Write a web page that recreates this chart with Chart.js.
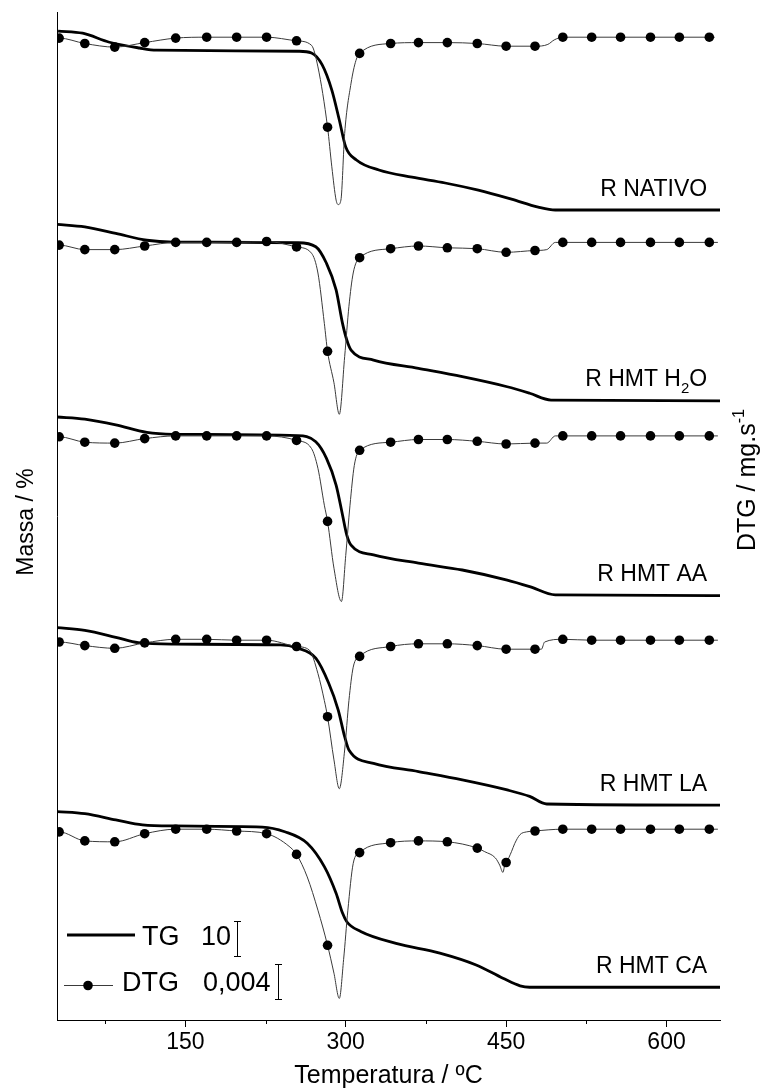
<!DOCTYPE html>
<html>
<head>
<meta charset="utf-8">
<script src="https://cdn.jsdelivr.net/npm/chart.js@4.4.1/dist/chart.umd.min.js"></script>
<style>
  html, body { margin: 0; padding: 0; background: #fff; }
  #wrap { width: 776px; height: 1090px; position: relative; }
</style>
</head>
<body>
<div id="wrap"><canvas id="tgChart"></canvas></div>
<script>
const FONT = '"Liberation Sans", Arial, sans-serif';

// x axis (temperature, ºC)
const tempMin = 30, tempMax = 650;
const xMajorTicks = [150, 300, 450, 600];
const xMinorTicks = [75, 225, 375, 525];

// sample names, top to bottom (_{} = subscript)
const sampleLabels = ['R NATIVO', 'R HMT H_{2}O', 'R HMT AA', 'R HMT LA', 'R HMT CA'];

// TG curves: temperature (ºC) and mass (%)
const tgT_nat = [31, 54, 79, 107, 123, 256, 268, 278, 287, 294, 300, 310, 331, 362, 393, 424, 455, 480, 496, 650];
const tgM_nat = [100, 99.4, 96.9, 95.3, 94.7, 94.4, 93.9, 90.6, 83.6, 75.3, 67.8, 64.2, 61.4, 59.4, 57.8, 55.8, 53.3, 51.1, 50.3, 50.3];
const tgT_h2o = [30, 56, 85, 114, 139, 255, 272, 282, 291, 297, 301, 305, 326, 368, 409, 451, 472, 492, 650];
const tgM_h2o = [100, 99.3, 97.5, 95.6, 95.1, 94.9, 93.8, 89.2, 81.8, 72.5, 67.9, 65.1, 62.3, 60.0, 57.7, 54.9, 53.1, 51.2, 51.0];
const tgT_aa  = [30, 56, 85, 114, 139, 255, 272, 282, 291, 297, 301, 305, 326, 368, 409, 451, 472, 496, 650];
const tgM_aa  = [100, 99.4, 97.8, 95.7, 95.2, 94.8, 93.1, 88.5, 81.1, 72.8, 67.2, 64.4, 61.7, 59.4, 57.5, 54.7, 52.9, 50.6, 50.4];
const tgT_la  = [30, 56, 85, 106, 139, 239, 255, 272, 284, 293, 299, 303, 326, 368, 409, 451, 472, 488, 650];
const tgM_la  = [100, 99.2, 97.3, 95.8, 95.4, 95.2, 94.3, 91.5, 84.6, 77.1, 69.7, 66.0, 62.3, 60.0, 57.7, 54.9, 53.1, 51.0, 50.7];
const tgT_ca  = [30, 56, 85, 110, 139, 222, 243, 264, 280, 291, 297, 301, 314, 347, 388, 422, 447, 463, 472, 650];
const tgM_ca  = [100, 99.4, 97.7, 96.3, 96.0, 95.7, 94.4, 91.2, 84.7, 77.3, 71.8, 69.4, 66.7, 63.4, 60.7, 57.4, 53.7, 51.6, 51.2, 51.2];

// vertical stacking offsets (TG in %, DTG in mg/s)
const tgOffset  = [174.7, 121.0, 67.5, 9.0, -42.1];
const dtgOffset = [0.1092, 0.0864, 0.0649, 0.0422, 0.0212];

// DTG markers (same temperatures for every curve), values in mg/s
const markerT = [32, 56, 84, 112, 141, 170, 198, 226, 254, 283, 313, 342, 368, 395, 423, 450, 477, 503, 530, 557, 585, 612, 640];
const dtgMk_nat = [-0.0001, -0.0007, -0.0011, -0.0006, -0.0001, 0, 0, 0, -0.0004, -0.0100, -0.0018, -0.0007, -0.0006, -0.0006, -0.0007, -0.0010, -0.0010, 0, 0, 0, 0, 0, 0];
const dtgMk_h2o = [-0.0003, -0.0008, -0.0008, -0.0004, 0, 0, 0, 0.0001, -0.0005, -0.0121, -0.0017, -0.0007, -0.0004, -0.0006, -0.0007, -0.0011, -0.0009, 0, 0, 0, 0, 0, 0];
const dtgMk_aa  = [-0.0001, -0.0007, -0.0008, -0.0003, 0, 0, 0, 0, -0.0005, -0.0095, -0.0016, -0.0007, -0.0004, -0.0004, -0.0006, -0.0009, -0.0008, 0, 0, 0, 0, 0, 0];
const dtgMk_la  = [-0.0002, -0.0006, -0.0009, -0.0003, 0.0001, 0.0001, 0, 0, -0.0007, -0.0085, -0.0018, -0.0007, -0.0004, -0.0004, -0.0006, -0.0010, -0.0010, 0.0001, 0, 0, 0, 0, 0];
const dtgMk_ca  = [-0.0003, -0.0013, -0.0014, -0.0005, 0, 0, -0.0002, -0.0005, -0.0028, -0.0129, -0.0026, -0.0015, -0.0013, -0.0014, -0.0021, -0.0037, -0.0002, 0, 0, 0, 0, 0, 0];

// DTG line points between markers (peaks and steps)
const dtgLT_nat = [30, 268, 274, 287, 291, 293, 295.5, 299, 305, 309.5, 489, 495, 645];
const dtgLV_nat = [-0.0001, -0.0009, -0.0033, -0.0144, -0.0181, -0.0186, -0.0181, -0.0107, -0.0051, -0.0026, -0.0008, -0.0003, 0];
const dtgLT_h2o = [30, 268, 274, 280, 289, 294, 299, 303, 307, 488, 496, 648];
const dtgLV_h2o = [-0.0003, -0.0012, -0.0034, -0.0090, -0.0156, -0.0191, -0.0127, -0.0071, -0.0034, -0.0008, 0, 0];
const dtgLT_aa  = [30, 268, 274, 280, 289, 296, 300, 304, 308, 488, 496, 648];
const dtgLV_aa  = [-0.0001, -0.0014, -0.0036, -0.0077, -0.0147, -0.0184, -0.0133, -0.0077, -0.0033, -0.0008, 0, 0];
const dtgLT_la  = [30, 266, 274, 280, 289, 294, 299, 303, 307, 483, 486, 648];
const dtgLV_la  = [-0.0002, -0.0011, -0.0037, -0.0067, -0.0133, -0.0165, -0.0122, -0.0067, -0.0030, -0.0010, -0.0002, 0];
const dtgLT_ca  = [30, 247, 264, 274, 289, 294, 298, 302, 307, 430, 440, 444, 447, 449, 455, 458, 463, 469, 648];
const dtgLV_ca  = [-0.0003, -0.0019, -0.0053, -0.0090, -0.0160, -0.0188, -0.0145, -0.0090, -0.0038, -0.0025, -0.0032, -0.0040, -0.0048, -0.0038, -0.0025, -0.0016, -0.0006, -0.0003, 0];

// scale bars in the legend
const tgBar = 10, dtgBar = 0.004;

const tgT = [tgT_nat, tgT_h2o, tgT_aa, tgT_la, tgT_ca];
const tgM = [tgM_nat, tgM_h2o, tgM_aa, tgM_la, tgM_ca];
const dtgMk = [dtgMk_nat, dtgMk_h2o, dtgMk_aa, dtgMk_la, dtgMk_ca];
const dtgLT = [dtgLT_nat, dtgLT_h2o, dtgLT_aa, dtgLT_la, dtgLT_ca];
const dtgLV = [dtgLV_nat, dtgLV_h2o, dtgLV_aa, dtgLV_la, dtgLV_ca];

const labelT = 638;     // right edge of sample names
const labelLift = 4;    // % above the residue line

function tgData(i) {
    return tgT[i].map((t, k) => ({ x: t, y: tgM[i][k] + tgOffset[i] }));
}

function dtgData(i) {
    const pts = markerT.map((t, k) => ({ x: t, y: dtgMk[i][k] + dtgOffset[i], m: true }))
        .concat(dtgLT[i].map((t, k) => ({ x: t, y: dtgLV[i][k] + dtgOffset[i], m: false })));
    pts.sort((a, b) => a.x - b.x);
    return pts;
}

const datasets = [];
for (let i = 0; i < 5; i++) {
    datasets.push({
        label: 'DTG ' + i, data: dtgData(i), yAxisID: 'y2',
        borderColor: '#3a3a3a', borderWidth: 1, cubicInterpolationMode: 'monotone',
        pointRadius: c => (c.raw && c.raw.m) ? 4.8 : 0,
        pointHoverRadius: c => (c.raw && c.raw.m) ? 4.8 : 0,
        pointBackgroundColor: '#000', pointBorderWidth: 0
    });
    datasets.push({
        label: 'TG ' + i, data: tgData(i), yAxisID: 'y',
        borderColor: '#000', borderWidth: 2.8, cubicInterpolationMode: 'monotone',
        pointRadius: 0, pointHoverRadius: 0
    });
}

// text with _{sub} and ^{sup} parts
function parseRich(text) {
    const parts = [];
    const re = /([_^])\{([^}]*)\}/g;
    let last = 0, m;
    while ((m = re.exec(text)) !== null) {
        if (m.index > last) parts.push({ t: text.slice(last, m.index), k: '' });
        parts.push({ t: m[2], k: m[1] });
        last = re.lastIndex;
    }
    if (last < text.length) parts.push({ t: text.slice(last), k: '' });
    return parts;
}

function drawRich(ctx, text, x, y, align, size) {
    const parts = parseRich(text);
    let w = 0;
    parts.forEach(p => {
        p.size = p.k ? size * 0.65 : size;
        ctx.font = p.size + 'px ' + FONT;
        p.w = ctx.measureText(p.t).width;
        w += p.w;
    });
    let cx = align === 'right' ? x - w : align === 'center' ? x - w / 2 : x;
    ctx.textBaseline = 'alphabetic';
    ctx.textAlign = 'left';
    parts.forEach(p => {
        ctx.font = p.size + 'px ' + FONT;
        const dy = p.k === '_' ? size * 0.3 : p.k === '^' ? -size * 0.45 : 0;
        ctx.fillText(p.t, cx, y + dy);
        cx += p.w;
    });
}

function scaleBar(ctx, x, yTop, yBot) {
    ctx.beginPath();
    ctx.moveTo(x + 0.5, yTop); ctx.lineTo(x + 0.5, yBot);
    ctx.moveTo(x - 3, yTop + 0.5); ctx.lineTo(x + 4, yTop + 0.5);
    ctx.moveTo(x - 3, yBot - 0.5); ctx.lineTo(x + 4, yBot - 0.5);
    ctx.stroke();
}

const decor = {
    id: 'decor',
    afterDraw(chart) {
        const { ctx, chartArea: a, scales } = chart;
        const xs = scales.x, yl = scales.y, yr = scales.y2;
        ctx.save();
        ctx.strokeStyle = '#000';
        ctx.fillStyle = '#000';
        ctx.lineWidth = 1;

        // minor ticks
        xMinorTicks.forEach(t => {
            const px = Math.round(xs.getPixelForValue(t)) + 0.5;
            ctx.beginPath(); ctx.moveTo(px, a.bottom); ctx.lineTo(px, a.bottom + 4); ctx.stroke();
        });

        // sample names
        sampleLabels.forEach((lab, i) => {
            const M = tgM[i];
            const y = yl.getPixelForValue(M[M.length - 1] + tgOffset[i] + labelLift);
            drawRich(ctx, lab, xs.getPixelForValue(labelT), y, 'right', 23);
        });

        // axis titles
        drawRich(ctx, 'Temperatura / ºC', (a.left + a.right) / 2, 1083, 'center', 25);
        ctx.save();
        ctx.translate(25, (a.top + a.bottom) / 2 + 6);
        ctx.rotate(-Math.PI / 2);
        drawRich(ctx, 'Massa / %', 0, 8, 'center', 23);
        ctx.restore();
        ctx.save();
        ctx.translate(747, 480);
        ctx.rotate(-Math.PI / 2);
        drawRich(ctx, 'DTG / mg.s^{-1}', 0, 8, 'center', 25);
        ctx.restore();

        // legend
        const lx = a.left;
        const tgH = yl.getPixelForValue(0) - yl.getPixelForValue(tgBar);
        const dtgH = yr.getPixelForValue(0) - yr.getPixelForValue(dtgBar);
        ctx.lineWidth = 2.8;
        ctx.beginPath(); ctx.moveTo(lx + 10, 935); ctx.lineTo(lx + 78, 935); ctx.stroke();
        drawRich(ctx, 'TG', lx + 85, 945, 'left', 27);
        drawRich(ctx, String(tgBar), lx + 144, 945, 'left', 27);
        ctx.lineWidth = 1;
        scaleBar(ctx, lx + 180, 939 - tgH / 2, 939 + tgH / 2);

        ctx.strokeStyle = '#3a3a3a';
        ctx.beginPath(); ctx.moveTo(lx + 7, 985.5); ctx.lineTo(lx + 56, 985.5); ctx.stroke();
        ctx.beginPath(); ctx.arc(lx + 31, 985.5, 4.8, 0, Math.PI * 2); ctx.fill();
        drawRich(ctx, 'DTG', lx + 65, 991, 'left', 27);
        drawRich(ctx, String(dtgBar).replace('.', ','), lx + 146, 991, 'left', 27);
        ctx.strokeStyle = '#000';
        scaleBar(ctx, lx + 221, 982 - dtgH / 2, 982 + dtgH / 2);
        ctx.restore();
    }
};

new Chart(document.getElementById('tgChart'), {
    type: 'line',
    data: { datasets: datasets },
    options: {
        responsive: true,
        maintainAspectRatio: false,
        animation: false,
        layout: { padding: { top: 12, right: 56, left: 0, bottom: 0 } },
        plugins: { legend: { display: false }, tooltip: { enabled: false } },
        scales: {
            x: {
                type: 'linear', min: tempMin, max: tempMax,
                afterFit: s => { s.height = 70; },
                afterBuildTicks: s => { s.ticks = xMajorTicks.map(v => ({ value: v })); },
                grid: { display: true, drawOnChartArea: false, drawTicks: true, tickLength: 7, color: '#000' },
                border: { display: true, color: '#000', width: 1 },
                ticks: {
                    autoSkip: false, maxRotation: 0,
                    padding: 2, color: '#000', font: { family: FONT, size: 23 }
                }
            },
            y: {
                type: 'linear', position: 'left', min: 0, max: 280,
                afterFit: s => { s.width = 57; },
                grid: { display: false },
                border: { display: true, color: '#000', width: 1 },
                ticks: { display: false }
            },
            y2: {
                type: 'linear', position: 'right', min: 0, max: 0.112,
                display: false
            }
        }
    },
    plugins: [decor]
});
</script>
</body>
</html>
